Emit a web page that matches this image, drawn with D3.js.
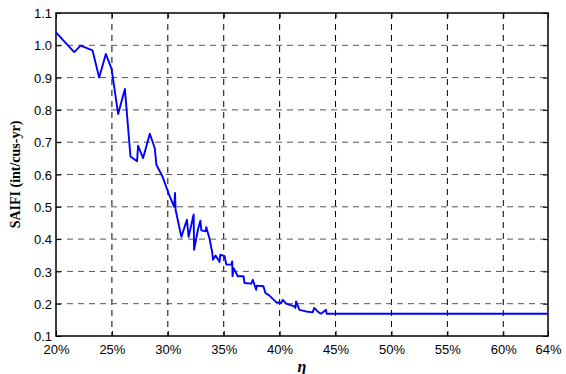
<!DOCTYPE html>
<html>
<head>
<meta charset="utf-8">
<script src="https://cdn.jsdelivr.net/npm/d3@7"></script>
<style>
  body { margin: 0; background: #fff; }
  .tick text { font-family: 'Liberation Sans', Arial, sans-serif; font-size: 13px; fill: #000; }
</style>
</head>
<body>
<svg id="chart" width="566" height="374"></svg>
<script>
'use strict';

// eta (%) vs SAIFI
var eta = [20.0, 20.65, 21.63, 22.2, 23.27, 23.86, 24.46, 24.97, 25.56, 26.16,
  26.66, 27.25, 27.34, 27.79, 28.39, 28.83, 28.98, 29.52, 30.17, 30.57,
  30.64, 30.7, 31.21, 31.71, 31.86, 32.31, 32.35, 32.69, 32.91, 33.0,
  33.38, 33.44, 33.74, 33.98, 34.03, 34.27, 34.63, 34.69, 35.08, 35.23,
  35.67, 35.76, 35.79, 35.88, 36.26, 36.77, 36.86, 37.46, 37.6, 37.9,
  37.96, 38.55, 38.73, 39.09, 39.69, 40.13, 40.28, 40.58, 41.32, 41.41,
  41.47, 41.77, 42.36, 42.95, 43.1, 43.49, 43.7, 44.15, 44.2, 44.71, 64];
var saifi = [1.04, 1.015, 0.979, 0.999, 0.984, 0.90, 0.973, 0.927, 0.787, 0.865,
  0.656, 0.641, 0.689, 0.651, 0.726, 0.682, 0.630, 0.594, 0.532, 0.50,
  0.543, 0.49, 0.407, 0.46, 0.407, 0.476, 0.367, 0.429, 0.457, 0.427,
  0.424, 0.437, 0.40, 0.357, 0.336, 0.349, 0.329, 0.352, 0.347, 0.321,
  0.321, 0.331, 0.285, 0.31, 0.285, 0.285, 0.264, 0.262, 0.274, 0.243,
  0.256, 0.254, 0.233, 0.225, 0.205, 0.202, 0.212, 0.2, 0.192, 0.187,
  0.207, 0.181, 0.176, 0.173, 0.187, 0.173, 0.169, 0.181, 0.169, 0.169, 0.169];

var xTicks = [20, 25, 30, 35, 40, 45, 50, 55, 60, 64];
var yTicks = [0.1, 0.2, 0.3, 0.4, 0.5, 0.6, 0.7, 0.8, 0.9, 1.0, 1.1];

var pLeft = 56, pRight = 548, pTop = 13, pBottom = 336;
var svg = d3.select('#chart');

var x = d3.scaleLinear().domain([20, 64]).range([pLeft, pRight]);
var y = d3.scaleLinear().domain([0.1, 1.1]).range([pBottom, pTop]);

// grid
var grid = svg.append('g').attr('class', 'grid');
grid.selectAll('.vgrid').data(xTicks.slice(1, -1)).enter()
  .append('line')
  .attr('class', 'vgrid')
  .attr('x1', d => x(d)).attr('x2', d => x(d))
  .attr('y1', pTop).attr('y2', pBottom)
  .attr('stroke', '#000')
  .attr('stroke-width', 1)
  .attr('stroke-dasharray', '6,5');
grid.selectAll('.hgrid').data(yTicks.slice(1, -1)).enter()
  .append('line')
  .attr('class', 'hgrid')
  .attr('x1', pLeft).attr('x2', pRight)
  .attr('y1', d => y(d)).attr('y2', d => y(d))
  .attr('stroke', '#555')
  .attr('stroke-width', 1)
  .attr('stroke-dasharray', '6,5');

// axes with inward ticks
var xAxis = svg.append('g')
  .attr('transform', 'translate(0,' + pBottom + ')')
  .call(d3.axisBottom(x).tickValues(xTicks).tickFormat(d => d + '%').tickSizeInner(-5).tickSizeOuter(0).tickPadding(9));
var xAxisTop = svg.append('g')
  .attr('transform', 'translate(0,' + pTop + ')')
  .call(d3.axisTop(x).tickValues(xTicks).tickFormat('').tickSizeInner(-5).tickSizeOuter(0));
var yAxis = svg.append('g')
  .attr('transform', 'translate(' + pLeft + ',0)')
  .call(d3.axisLeft(y).tickValues(yTicks).tickFormat(d3.format('.1f')).tickSizeInner(-5).tickSizeOuter(0).tickPadding(4));
var yAxisRight = svg.append('g')
  .attr('transform', 'translate(' + pRight + ',0)')
  .call(d3.axisRight(y).tickValues(yTicks).tickFormat('').tickSizeInner(-5).tickSizeOuter(0));
[xAxis, xAxisTop, yAxis, yAxisRight].forEach(a => {
  a.select('.domain').remove();
  a.selectAll('.tick line').attr('stroke', '#000');
});
yAxis.selectAll('.tick text').attr('dy', '0.36em');

// frame
svg.append('rect')
  .attr('x', pLeft).attr('y', pTop)
  .attr('width', pRight - pLeft).attr('height', pBottom - pTop)
  .attr('fill', 'none')
  .attr('stroke', '#000')
  .attr('stroke-width', 1.5);

// series
var line = d3.line()
  .x((d, i) => x(eta[i]))
  .y(d => y(d));
svg.append('path')
  .datum(saifi)
  .attr('d', line)
  .attr('fill', 'none')
  .attr('stroke', '#0000ff')
  .attr('stroke-width', 1.9)
  .attr('stroke-linejoin', 'round');

// labels
svg.append('text')
  .attr('x', (pLeft + pRight) / 2)
  .attr('y', 372)
  .attr('text-anchor', 'middle')
  .attr('font-family', "'Liberation Serif', 'Times New Roman', serif")
  .attr('font-weight', 'bold')
  .attr('font-style', 'italic')
  .attr('font-size', '16px')
  .text('η');

svg.append('text')
  .attr('transform', 'translate(20,' + ((pTop + pBottom) / 2) + ')rotate(-90)')
  .attr('text-anchor', 'middle')
  .attr('font-family', "'Liberation Serif', 'Times New Roman', serif")
  .attr('font-weight', 'bold')
  .attr('font-size', '14px')
  .text('SAIFI (int/cus-yr)');
</script>
</body>
</html>
